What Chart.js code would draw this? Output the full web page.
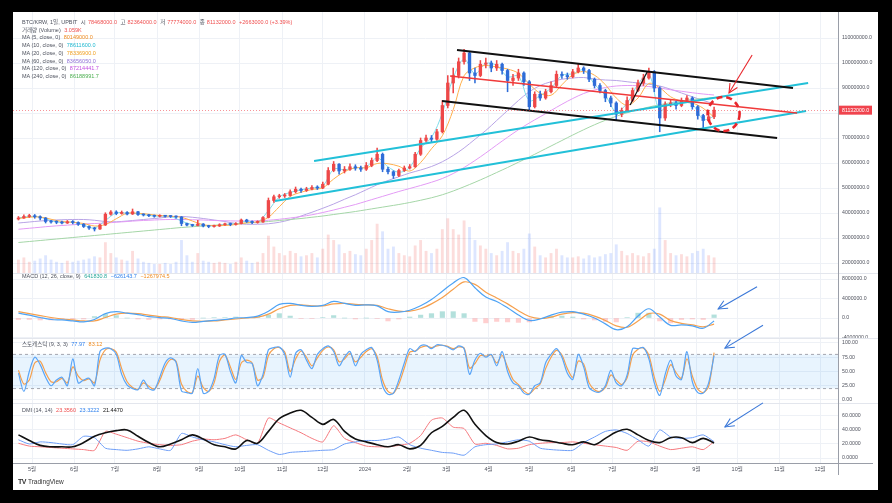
<!DOCTYPE html>
<html>
<head>
<meta charset="utf-8">
<script src="https://cdn.jsdelivr.net/npm/chart.js@4.4.1/dist/chart.umd.min.js"></script>
<style>
  body { margin: 0; background: #000; width: 892px; height: 503px; overflow: hidden;
         font-family: "Liberation Sans", "Noto Sans CJK KR", sans-serif; }
  #frame { position: absolute; left: 13px; top: 12px; width: 865px; height: 478px; background: #fff; }
  canvas { position: absolute; left: 13px; }
  #overlay { left: 0; top: 0; pointer-events: none; }
  .sep { position: absolute; left: 13px; width: 865px; height: 1px; background: #e3e6ed; }
  .leg { position: absolute; left: 22px; font-size: 5.5px; line-height: 7.7px; color: #4e525e; white-space: nowrap; }
  .leg span { margin-left: 2px; }
  .r { color: #ef4f4f; } .c { color: #1fb8d0; } .o { color: #f08a1c; } .y { color: #f0a020; }
  .p { color: #8f6fd6; } .m { color: #c24fe0; } .g { color: #4caf50; }
  .t { color: #26a69a; } .b { color: #2f80ed; } .k { color: #111; }
  #tv { position: absolute; left: 18px; top: 478px; font-size: 6.5px; color: #333; }
  #tv b { font-size: 7px; letter-spacing: -0.5px; margin-right: 2px; }
</style>
</head>
<body>
<div id="frame"></div>
<canvas id="cPrice" width="865" height="261" style="top:12px"></canvas>
<canvas id="cMacd" width="865" height="64" style="top:274px"></canvas>
<canvas id="cStoch" width="865" height="64" style="top:339px"></canvas>
<canvas id="cDmi" width="865" height="72" style="top:404px"></canvas>
<div class="sep" style="top:273px"></div>
<div class="sep" style="top:338px"></div>
<div class="sep" style="top:403px"></div>
<div style="position:absolute;left:838px;top:12px;width:1px;height:463px;background:#9a9ea8"></div>
<div style="position:absolute;left:13px;top:463px;width:860px;height:1px;background:#9a9ea8"></div>
<canvas id="overlay" width="892" height="503"></canvas>

<div class="leg" style="top:19px">
  BTC/KRW, 1일, UPBIT <span>시</span><span class="r">78468000.0</span> <span>고</span><span class="r">82364000.0</span>
  <span>저</span><span class="r">77774000.0</span> <span>종</span><span class="r">81132000.0</span> <span class="r">+2663000.0 (+3.39%)</span><br>
  거래량 (Volume) <span class="r">3.059K</span><br>
  MA (5, close, 0) <span class="o">80149000.0</span><br>
  MA (10, close, 0) <span class="c">78611600.0</span><br>
  MA (20, close, 0) <span class="y">78336900.0</span><br>
  MA (60, close, 0) <span class="p">83656050.0</span><br>
  MA (120, close, 0) <span class="m">87214441.7</span><br>
  MA (240, close, 0) <span class="g">86188991.7</span>
</div>
<div class="leg" style="top:273px">MACD (12, 26, close, 9) <span class="t">641830.8</span> <span class="b">−626143.7</span> <span class="o">−1267974.5</span></div>
<div class="leg" style="top:341px">스토캐스틱 (9, 3, 3) <span class="b">77.97</span> <span class="o">83.12</span></div>
<div class="leg" style="top:407px">DMI (14, 14) <span class="r">23.3560</span> <span class="b">23.3222</span> <span class="k">21.4470</span></div>
<div id="tv"><b>TV</b>TradingView</div>

<script>
// month ticks, days counted from 2023-05-01
const monthDays = [0, 31, 61, 92, 123, 153, 184, 214, 245, 276, 305, 336, 366, 397, 427, 458, 489, 519, 550, 580];
const monthLabels = ['5월', '6월', '7월', '8월', '9월', '10월', '11월', '12월', '2024', '2월', '3월', '4월',
                     '5월', '6월', '7월', '8월', '9월', '10월', '11월', '12월'];
const dayMin = -14, dayMax = 593.2;

const priceTicks = [20, 30, 40, 50, 60, 70, 80, 90, 100, 110];
const macdTicks = [-4, 0, 4, 8];
const stochTicks = [0, 25, 50, 75, 100];
const dmiTicks = [0, 20, 40, 60];

// 4-day candles (million KRW), first candle 2023-04-21
const firstOpen = 37.6;
const closes = [38.0, 38.6, 38.9,
  38.5, 38.0, 36.6, 36.4, 36.3, 36.0, 36.5, 36.2,
  35.5, 34.6, 34.0, 33.6, 35.2, 39.5, 40.4,
  39.8, 40.2, 39.6, 40.5, 39.4, 39.2, 38.9, 38.7,
  38.8, 38.7, 38.6, 38.4, 35.8, 35.2, 35.0, 35.6,
  34.8, 34.6, 34.8, 35.3, 35.6, 35.4, 35.8,
  37.2, 36.6, 36.2, 36.4, 38.2, 45.0, 46.5, 46.8,
  47.0, 48.5, 49.5, 49.0, 49.6, 50.2, 50.0,
  51.5, 57.0, 59.5, 56.8, 57.5, 58.5, 58.0, 57.5,
  59.0, 61.0, 63.5, 57.5, 56.5, 55.0, 57.0,
  58.0, 58.5, 63.5, 69.0, 70.0, 69.5, 72.5, 83.0,
  92.0, 95.0, 100.5, 104.0, 96.0, 95.0, 99.5, 100.0,
  98.0, 99.5, 97.0, 93.0, 94.0, 96.0, 92.5,
  82.5, 87.5, 86.0, 88.5, 91.0, 95.5, 95.0, 94.5,
  96.5, 98.0, 97.0, 93.5, 91.0, 89.0, 86.0,
  84.0, 79.5, 81.0, 85.0, 89.0, 92.0, 94.0, 96.5,
  90.0, 78.0, 83.5, 84.0, 83.0, 85.0, 86.0, 82.5,
  79.0, 77.0, 78.5, 81.132];
const highs = [38.6, 39.3, 39.5,
  39.4, 38.9, 38.2, 37.1, 36.9, 36.8, 37.0, 37.0,
  36.5, 35.8, 34.9, 34.3, 35.6, 40.1, 41.0,
  40.9, 40.8, 40.6, 41.6, 40.7, 39.7, 39.5, 39.2,
  39.3, 39.1, 39.0, 38.9, 38.6, 36.0, 35.5, 37.1,
  35.8, 35.1, 35.2, 35.7, 36.0, 36.0, 36.2,
  37.6, 37.5, 36.9, 36.9, 38.6, 46.0, 47.2, 47.5,
  47.8, 49.3, 50.4, 50.0, 50.3, 51.0, 50.9,
  52.4, 58.2, 60.6, 59.8, 58.6, 59.7, 59.3, 58.8,
  60.2, 62.0, 66.0, 64.0, 58.3, 56.9, 57.6,
  58.8, 59.4, 64.3, 70.0, 71.2, 71.0, 73.5, 85.0,
  95.0, 98.0, 102.0, 105.5, 104.5, 98.0, 101.0, 102.0,
  100.8, 101.0, 100.0, 97.5, 95.5, 97.5, 96.5,
  93.0, 88.5, 88.8, 89.5, 92.5, 96.8, 96.5, 96.0,
  97.5, 99.5, 98.5, 97.5, 94.0, 91.8, 89.5,
  86.8, 84.5, 82.0, 86.5, 90.0, 93.2, 95.5, 98.0,
  97.0, 90.5, 84.5, 85.2, 84.8, 86.0, 87.0, 86.5,
  83.0, 79.5, 80.5, 82.364];
const lows = [37.2, 37.8, 38.2,
  37.9, 37.2, 36.0, 35.9, 35.7, 35.6, 35.8, 35.6,
  35.0, 34.2, 33.4, 32.8, 33.4, 35.0, 39.1,
  39.3, 39.5, 39.2, 39.4, 39.0, 38.8, 38.5, 38.3,
  38.4, 38.3, 38.2, 37.9, 34.9, 34.8, 34.6, 34.8,
  34.4, 34.1, 34.3, 34.6, 35.0, 34.9, 35.1,
  35.6, 36.2, 35.7, 35.9, 36.2, 38.0, 44.2, 45.9,
  46.2, 46.7, 48.0, 48.2, 48.6, 49.2, 49.4,
  49.7, 51.2, 56.5, 55.5, 56.0, 57.0, 57.1, 56.6,
  57.0, 58.5, 60.5, 56.5, 55.6, 53.8, 54.5,
  56.6, 57.6, 58.2, 63.0, 68.3, 68.5, 69.0, 72.0,
  82.0, 88.0, 94.0, 99.5, 93.0, 92.0, 94.5, 98.0,
  96.5, 97.0, 95.5, 88.5, 91.0, 93.0, 91.0,
  81.0, 82.0, 85.0, 85.5, 88.0, 90.5, 93.8, 93.5,
  94.0, 96.0, 95.8, 92.5, 90.0, 88.0, 84.5,
  82.5, 77.0, 78.5, 80.5, 84.5, 88.5, 91.0, 93.5,
  88.5, 72.5, 77.0, 82.5, 81.5, 82.5, 84.5, 81.5,
  77.5, 74.0, 76.5, 77.774];
const volumes = [12, 14, 10,
  11, 13, 16, 12, 10, 9, 11, 10,
  11, 12, 13, 15, 14, 28, 18,
  14, 12, 11, 20, 13, 10, 9, 8,
  8, 9, 8, 10, 30, 16, 10, 18,
  11, 10, 9, 10, 9, 8, 10,
  14, 11, 9, 10, 18, 34, 24, 18,
  16, 20, 18, 15, 16, 18, 14,
  22, 35, 30, 26, 18, 20, 17, 16,
  22, 30, 45, 38, 22, 24, 18,
  16, 15, 25, 30, 20, 18, 22, 40,
  50, 40, 35, 48, 42, 30, 25, 22,
  18, 16, 20, 28, 20, 18, 22,
  36, 24, 16, 14, 18, 22, 16, 14,
  14, 15, 13, 16, 14, 15, 17,
  18, 26, 20, 16, 18, 16, 15, 18,
  22, 60, 30, 18, 16, 17, 15, 18,
  20, 22, 16, 14];

// stochastic, same 4-day steps
const stochK = [47, 15, 50, 75, 62, 40, 25, 35, 40, 25, 72, 30, 35, 38, 25, 85, 91, 90, 80, 45,
  26, 20, 18, 35, 20, 18, 40, 65, 74, 66, 16, 13, 12, 55, 12, 15, 38, 78, 80, 50,
  30, 78, 66, 64, 25, 45, 88, 92, 93, 80, 40, 82, 88, 70, 55, 80, 90, 95, 85, 60,
  75, 85, 60, 80, 88, 92, 70, 25, 10, 12, 35, 65, 90, 85, 95, 96, 90, 97, 96, 93,
  88, 95, 90, 45, 70, 82, 75, 80, 60, 85, 50, 30, 25, 12, 10, 25, 30, 65, 80, 90,
  75, 47, 36, 80, 58, 22, 15, 14, 25, 52, 30, 25, 44, 90, 90, 92, 72, 30, 8, 45,
  70, 42, 36, 85, 32, 13, 12, 30, 78];
const stochD = [52, 28, 35, 65, 68, 48, 32, 32, 38, 30, 58, 42, 34, 37, 30, 70, 88, 90, 84, 55,
  32, 22, 19, 30, 24, 19, 34, 58, 71, 68, 28, 15, 13, 42, 22, 15, 30, 68, 79, 58,
  36, 65, 70, 65, 35, 40, 78, 90, 92, 84, 50, 72, 86, 75, 60, 74, 87, 93, 88, 67,
  72, 82, 67, 75, 85, 90, 76, 35, 15, 12, 28, 56, 84, 86, 92, 95, 92, 95, 96, 94,
  90, 93, 91, 56, 64, 78, 77, 79, 65, 78, 58, 36, 27, 16, 11, 20, 28, 55, 75, 87,
  79, 55, 40, 68, 63, 30, 18, 15, 22, 44, 35, 27, 39, 78, 89, 91, 78, 40, 15, 35,
  62, 48, 38, 72, 42, 19, 13, 24, 83];

// 8-day samples (moving averages, MACD, DMI)
const ma10 = [38.0, 38.6, 38.4, 36.9, 36.2, 36.3, 35.1, 34.0, 37.0, 40.0, 39.9, 39.7, 39.0, 38.7, 38.6, 36.8,
  35.3, 35.1, 34.8, 35.4, 35.6, 36.8, 36.3, 41.0, 46.4, 48.2, 49.3, 50.0, 50.8, 57.5, 57.3, 58.0,
  58.5, 62.0, 58.5, 56.3, 58.2, 66.0, 70.2, 80.0, 94.0, 101.5, 95.7, 99.8, 99.0, 94.5, 94.7, 85.0,
  87.0, 90.0, 95.0, 95.7, 97.2, 91.5, 87.0, 80.5, 84.0, 91.5, 95.5, 81.0, 84.0, 84.3, 83.5, 77.5, 78.6];
const ma20 = [37.8, 38.3, 38.4, 37.5, 36.6, 36.3, 35.8, 34.8, 35.4, 37.7, 39.9, 39.9, 39.5, 39.0, 38.7, 38.3,
  36.8, 35.3, 35.0, 35.0, 35.4, 36.1, 36.5, 38.3, 42.5, 46.6, 48.3, 49.4, 50.1, 53.6, 56.5, 58.1,
  58.1, 59.8, 59.7, 58.7, 56.8, 60.2, 65.7, 70.9, 81.3, 94.9, 98.1, 99.0, 98.4, 97.6, 95.9, 91.6,
  87.9, 87.1, 91.3, 95.3, 96.6, 95.1, 91.3, 86.0, 83.1, 86.0, 91.8, 90.1, 86.5, 84.7, 84.0, 81.9, 78.3];
const ma60 = [36.0, 36.4, 36.8, 37.1, 37.3, 37.4, 37.4, 37.1, 36.6, 36.5, 36.8, 37.2, 37.6, 38.0, 38.5, 38.6,
  38.3, 37.8, 37.2, 36.6, 35.8, 35.5, 35.5, 35.7, 36.3, 37.3, 38.8, 40.3, 41.9, 43.6, 45.5, 47.3,
  49.3, 51.3, 53.0, 54.5, 56.0, 57.2, 58.6, 60.5, 63.0, 66.0, 69.5, 73.0, 77.0, 81.0, 85.0, 88.5,
  91.0, 92.5, 93.5, 94.0, 94.2, 93.6, 93.2, 93.0, 92.5, 92.0, 91.5, 90.8, 89.5, 88.0, 86.5, 85.0, 83.7];
const ma120 = [33.5, 33.9, 34.3, 34.7, 35.0, 35.3, 35.6, 35.8, 36.0, 36.3, 36.6, 36.9, 37.1, 37.3, 37.4, 37.4,
  37.3, 37.2, 37.0, 36.9, 36.8, 36.8, 36.9, 37.1, 37.5, 38.0, 38.6, 39.3, 40.2, 41.2, 42.3, 43.4,
  44.7, 46.0, 47.3, 48.6, 49.8, 51.0, 52.3, 53.8, 55.8, 58.2, 61.0, 64.0, 67.2, 70.3, 73.3, 76.0,
  78.5, 81.0, 83.5, 85.8, 87.8, 89.2, 90.2, 90.8, 91.0, 90.9, 90.6, 90.0, 89.3, 88.7, 88.1, 87.6, 87.2];
const ma240 = [28.2, 28.6, 29.0, 29.4, 29.8, 30.2, 30.6, 31.0, 31.4, 31.8, 32.2, 32.6, 33.0, 33.4, 33.8, 34.2,
  34.5, 34.8, 35.1, 35.4, 35.7, 36.0, 36.3, 36.6, 37.0, 37.4, 37.8, 38.3, 38.8, 39.4, 40.0, 40.6,
  41.3, 42.0, 42.7, 43.4, 44.2, 45.1, 46.1, 47.3, 48.8, 50.5, 52.3, 54.2, 56.2, 58.2, 60.3, 62.4,
  64.6, 66.8, 69.0, 71.2, 73.3, 75.3, 77.1, 78.7, 80.1, 81.3, 82.4, 83.3, 84.1, 84.8, 85.4, 85.8, 86.2];

const macdLine = [1.0, 0.6, 0.1, -0.3, -0.4, -0.6, -0.8, -0.3, 0.9, 1.3, 1.0, 0.7, 0.3, 0.1, -0.1, -0.6,
  -0.9, -0.7, -0.5, -0.3, 0.0, 0.1, 0.4, 1.4, 2.8, 3.0, 2.6, 2.4, 2.6, 3.4, 3.0, 2.6,
  2.7, 2.5, 1.3, 1.2, 1.6, 2.5, 3.8, 5.5, 7.2, 8.3, 6.2, 4.3, 3.4, 2.1, 0.6, -0.5,
  -0.2, 0.6, 1.2, 1.3, 0.8, 0.0, -1.2, -2.4, -1.8, 0.4, 1.9, 0.2, -1.5, -1.4, -1.6, -2.1, -0.63];
const signalLine = [1.3, 0.9, 0.5, 0.1, -0.2, -0.4, -0.6, -0.6, 0.1, 0.8, 1.0, 0.9, 0.6, 0.3, 0.1, -0.3,
  -0.6, -0.7, -0.6, -0.4, -0.2, 0.0, 0.2, 0.8, 1.9, 2.6, 2.7, 2.5, 2.5, 2.9, 3.0, 2.8,
  2.7, 2.6, 1.9, 1.4, 1.4, 1.9, 2.9, 4.2, 5.9, 7.4, 6.9, 5.3, 4.1, 2.9, 1.5, 0.3,
  -0.1, 0.2, 0.8, 1.1, 1.0, 0.4, -0.5, -1.6, -1.9, -0.6, 0.9, 0.8, -0.5, -1.1, -1.4, -1.8, -1.27];
const macdHist = [-0.3, -0.3, -0.4, -0.4, -0.2, -0.2, -0.2, 0.3, 0.8, 0.5, 0.0, -0.2, -0.3, -0.2, -0.2, -0.3,
  -0.3, 0.0, 0.1, 0.1, 0.2, 0.1, 0.2, 0.6, 0.9, 0.4, -0.1, -0.1, 0.1, 0.5, 0.0, -0.2,
  0.0, -0.1, -0.6, -0.2, 0.2, 0.6, 0.9, 1.3, 1.3, 0.9, -0.7, -1.0, -0.7, -0.8, -0.9, -0.8,
  -0.1, 0.4, 0.4, 0.2, -0.2, -0.4, -0.7, -0.8, 0.1, 1.0, 1.0, -0.6, -1.0, -0.3, -0.2, -0.3, 0.64];

const adx = [33, 25, 18, 16, 16, 16, 22, 31, 36, 39, 40, 31, 22, 16, 20, 26, 33, 27, 19, 16,
  13, 25, 21, 38, 56, 64, 68, 58, 48, 55, 38, 27, 23, 19, 16, 19, 13, 18, 36, 45,
  58, 68, 48, 32, 22, 20, 24, 30, 26, 24, 21, 19, 23, 19, 28, 37, 41, 33, 25, 22,
  29, 29, 22, 28, 21.447];
const diPlus = [21, 17, 16, 15, 14, 13, 12, 11, 38, 34, 29, 24, 21, 19, 18, 19, 24, 27, 26, 28,
  33, 26, 21, 57, 50, 43, 36, 28, 23, 46, 28, 22, 17, 16, 16, 18, 21, 32, 54, 57,
  44, 42, 20, 21, 18, 13, 14, 19, 21, 22, 22, 23, 21, 19, 17, 15, 11, 24, 23, 17,
  12, 14, 16, 12, 23.356];
const diMinus = [26, 20, 23, 22, 20, 19, 31, 29, 14, 12, 11, 13, 16, 13, 11, 35, 30, 26, 23, 19,
  16, 18, 19, 11, 5, 8, 9, 10, 11, 12, 20, 23, 25, 25, 27, 30, 19, 14, 11, 8,
  7, 4, 16, 19, 20, 23, 26, 24, 14, 12, 11, 11, 22, 30, 38, 40, 35, 26, 17, 40,
  30, 28, 29, 33, 23.322];

// drawn trend lines: [day, price] endpoints
const trendLines = [
  { from: [312.8, 105.2], to: [560.1, 90.0], color: '#111', width: 2 },
  { from: [301.8, 84.8], to: [548.4, 70.0], color: '#111', width: 2 },
  { from: [440.2, 83.2], to: [452.7, 96.4], color: '#111', width: 1.2 },
  { from: [307.7, 94.8], to: [563.1, 80.0], color: '#f03a3a', width: 1.6 },
  { from: [207.6, 60.8], to: [571.2, 92.0], color: '#22c0d8', width: 1.8 },
  { from: [178.9, 44.8], to: [569.7, 80.8], color: '#22c0d8', width: 1.8 }
];
const lastPrice = 81.132;
const circleNote = { day: 509, price: 79.6 };
const redArrow = { from: [530, 103.2], to: [513, 88] };
const macdArrow = { from: [533.6, 6.4], to: [505, 1.85] };
const stochArrow = { from: [538, 131], to: [510, 91] };
const dmiArrow = { from: [538, 78.6], to: [510, 44.3] };

const FONT = '"Liberation Sans", "Noto Sans CJK KR", sans-serif';
const UP = '#ee4848', DOWN = '#2e6cd8';

const candleDays = closes.map((c, i) => -10 + 4 * i);
const lineDays = ma240.map((v, k) => -10 + 8 * k);
const opens = closes.map((c, i) => (i ? closes[i - 1] : firstOpen));
const isUp = closes.map((c, i) => c >= opens[i]);

const pts = (days, vals) => vals.map((v, i) => ({ x: days[i], y: v }));

function xScale(showLabels) {
  return {
    type: 'linear', min: dayMin, max: dayMax, offset: false,
    grid: { color: '#eef1f6', drawTicks: false, offset: false },
    border: { display: false },
    ticks: {
      display: showLabels, autoSkip: false, maxRotation: 0, padding: 3,
      color: '#50535e', font: { size: 5.5, family: FONT },
      callback: v => monthLabels[monthDays.indexOf(v)]
    },
    afterBuildTicks: s => { s.ticks = monthDays.map(v => ({ value: v })); },
    afterFit: s => { s.height = showLabels ? 13 : 0; s.paddingLeft = 0; s.paddingRight = 0; }
  };
}

function yScale(min, max, ticks, fmt) {
  return {
    position: 'right', min: min, max: max,
    grid: { color: '#eef1f6', drawTicks: false },
    border: { display: false },
    ticks: { color: '#50535e', padding: 4, font: { size: 5.2, family: FONT }, callback: fmt },
    afterBuildTicks: s => { s.ticks = ticks.map(v => ({ value: v })); },
    afterFit: s => { s.width = 40; s.paddingTop = 0; s.paddingBottom = 0; }
  };
}

const common = {
  responsive: false, animation: false, events: [],
  layout: { padding: 0 },
  plugins: { legend: { display: false }, tooltip: { enabled: false } }
};

function lineSet(days, vals, color, width, extra) {
  return Object.assign({
    type: 'line', data: pts(days, vals), borderColor: color, borderWidth: width,
    pointRadius: 0, tension: 0.35, fill: false
  }, extra || {});
}

// ---- price pane ----
const priceChart = new Chart(document.getElementById('cPrice'), {
  type: 'bar',
  data: {
    datasets: [
      {
        type: 'bar', yAxisID: 'yv', order: 10, grouped: false, barThickness: 2.2,
        data: pts(candleDays, volumes),
        backgroundColor: isUp.map(u => (u ? 'rgba(239,83,80,0.2)' : 'rgba(41,98,255,0.16)'))
      },
      lineSet(lineDays, ma240, '#a5d6a7', 1, { order: 6 }),
      lineSet(lineDays, ma120, '#e39bf5', 1, { order: 6 }),
      lineSet(lineDays, ma60, '#b8a4e6', 1, { order: 6 }),
      lineSet(lineDays, ma20, '#ffb04d', 1, { order: 5 }),
      lineSet(lineDays, ma10, '#7fdcea', 1, { order: 5 }),
      {
        type: 'bar', order: 3, grouped: false, barThickness: 0.9,
        data: candleDays.map((d, i) => ({ x: d, y: [lows[i], highs[i]] })),
        backgroundColor: isUp.map(u => (u ? UP : DOWN))
      },
      {
        type: 'bar', order: 2, grouped: false, barThickness: 2.7, minBarLength: 1,
        data: candleDays.map((d, i) => ({ x: d, y: [opens[i], closes[i]] })),
        backgroundColor: isUp.map(u => (u ? UP : DOWN))
      },
      ...trendLines.map(t => ({
        type: 'line', order: 0, data: [{ x: t.from[0], y: t.from[1] }, { x: t.to[0], y: t.to[1] }],
        borderColor: t.color, borderWidth: t.width, pointRadius: 0, fill: false
      }))
    ]
  },
  options: Object.assign({}, common, {
    scales: {
      x: xScale(false),
      y: yScale(16, 120.4, priceTicks, v => (v * 1e6).toFixed(1)),
      yv: { display: false, min: 0, max: 240 }
    }
  })
});

// ---- MACD pane ----
const macdChart = new Chart(document.getElementById('cMacd'), {
  type: 'bar',
  data: {
    datasets: [
      {
        type: 'bar', order: 5, grouped: false, barThickness: 4.5,
        data: pts(lineDays, macdHist),
        backgroundColor: macdHist.map(v => (v >= 0 ? 'rgba(38,166,154,0.35)' : 'rgba(255,82,82,0.28)'))
      },
      lineSet(lineDays, macdLine, '#4ea3f5', 1.2, { order: 1 }),
      lineSet(lineDays, signalLine, '#f6a04d', 1.2, { order: 2 })
    ]
  },
  options: Object.assign({}, common, {
    scales: { x: xScale(false), y: yScale(-4.1, 9.03, macdTicks, v => (v * 1e6).toFixed(1)) }
  })
});

// ---- stochastic pane ----
const stochChart = new Chart(document.getElementById('cStoch'), {
  type: 'line',
  data: {
    datasets: [
      {
        data: [{ x: dayMin, y: 80 }, { x: dayMax, y: 80 }], borderColor: '#a3a6af', borderWidth: 1,
        borderDash: [3, 3], pointRadius: 0, fill: false, order: 5
      },
      {
        data: [{ x: dayMin, y: 20 }, { x: dayMax, y: 20 }], borderColor: '#a3a6af', borderWidth: 1,
        borderDash: [3, 3], pointRadius: 0, fill: '-1', backgroundColor: 'rgba(33,150,243,0.1)', order: 5
      },
      lineSet(candleDays, stochD, '#f6a04d', 1.2, { order: 2, tension: 0.3 }),
      lineSet(candleDays, stochK, '#5aa5f7', 1.2, { order: 1, tension: 0.3 })
    ]
  },
  options: Object.assign({}, common, {
    scales: { x: xScale(false), y: yScale(-5.3, 107, stochTicks, v => v.toFixed(2)) }
  })
});

// ---- DMI pane ----
const dmiChart = new Chart(document.getElementById('cDmi'), {
  type: 'line',
  data: {
    datasets: [
      lineSet(lineDays, diPlus, '#f5797e', 1, { order: 3, tension: 0.2 }),
      lineSet(lineDays, diMinus, '#6e9ef7', 1, { order: 2, tension: 0.2 }),
      lineSet(lineDays, adx, '#111111', 1.6, { order: 1 })
    ]
  },
  options: Object.assign({}, common, {
    scales: { x: xScale(true), y: yScale(-7.1, 77, dmiTicks, v => v.toFixed(4)) }
  })
});

// ---- annotations on a page-wide overlay ----
const ov = document.getElementById('overlay').getContext('2d');
function toPage(chart, top, day, val) {
  return [13 + chart.scales.x.getPixelForValue(day), top + chart.scales.y.getPixelForValue(val)];
}
function arrow(from, to, color) {
  ov.strokeStyle = color; ov.lineWidth = 1.1; ov.setLineDash([]);
  ov.beginPath(); ov.moveTo(from[0], from[1]); ov.lineTo(to[0], to[1]); ov.stroke();
  const a = Math.atan2(to[1] - from[1], to[0] - from[0]);
  const L = 10;
  ov.beginPath();
  ov.moveTo(to[0] - L * Math.cos(a - 0.45), to[1] - L * Math.sin(a - 0.45));
  ov.lineTo(to[0], to[1]);
  ov.lineTo(to[0] - L * Math.cos(a + 0.45), to[1] - L * Math.sin(a + 0.45));
  ov.stroke();
}

// last price dotted line + axis label
const lp = toPage(priceChart, 12, dayMin, lastPrice);
ov.strokeStyle = 'rgba(240,60,70,0.55)'; ov.lineWidth = 1; ov.setLineDash([1, 2]);
ov.beginPath(); ov.moveTo(13, Math.round(lp[1]) + 0.5); ov.lineTo(838, Math.round(lp[1]) + 0.5); ov.stroke();
ov.setLineDash([]);
ov.fillStyle = '#f0434d';
ov.fillRect(839, lp[1] - 4.5, 33, 9);
ov.fillStyle = '#fff'; ov.font = '5.2px ' + FONT; ov.textBaseline = 'middle';
ov.fillText((lastPrice * 1e6).toFixed(1), 842, lp[1] + 0.3);

// dashed circle
const cc = toPage(priceChart, 12, circleNote.day, circleNote.price);
ov.strokeStyle = '#e8262b'; ov.lineWidth = 2.6; ov.setLineDash([6, 4]);
ov.beginPath(); ov.ellipse(cc[0], cc[1], 16, 17, 0, 0, Math.PI * 2); ov.stroke();
ov.setLineDash([]);

arrow(toPage(priceChart, 12, redArrow.from[0], redArrow.from[1]),
      toPage(priceChart, 12, redArrow.to[0], redArrow.to[1]), '#e8262b');
arrow(toPage(macdChart, 274, macdArrow.from[0], macdArrow.from[1]),
      toPage(macdChart, 274, macdArrow.to[0], macdArrow.to[1]), '#3b78d8');
arrow(toPage(stochChart, 339, stochArrow.from[0], stochArrow.from[1]),
      toPage(stochChart, 339, stochArrow.to[0], stochArrow.to[1]), '#3b78d8');
arrow(toPage(dmiChart, 404, dmiArrow.from[0], dmiArrow.from[1]),
      toPage(dmiChart, 404, dmiArrow.to[0], dmiArrow.to[1]), '#3b78d8');
</script>
</body>
</html>
